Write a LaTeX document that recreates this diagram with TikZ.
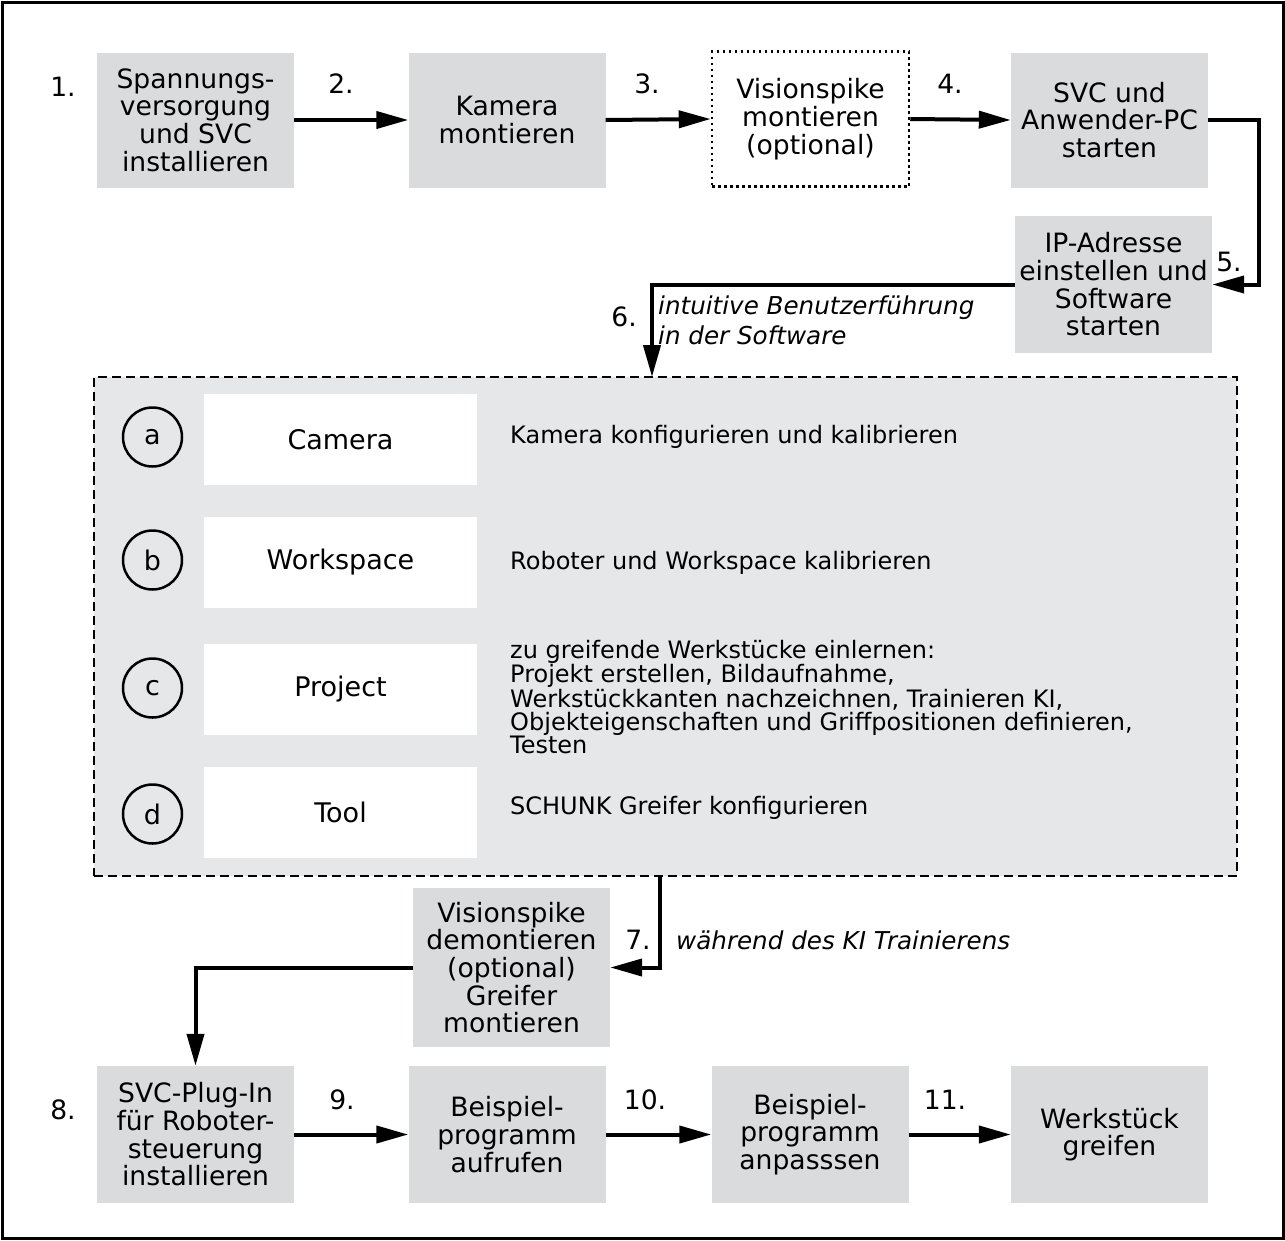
\documentclass[tikz,border=0pt]{standalone}
\usepackage{fontspec}
\setmainfont{DejaVu Sans}
\usetikzlibrary{arrows.meta}
\definecolor{stepgray}{RGB}{218,219,220}
\definecolor{softgray}{RGB}{230,231,232}

\begin{document}
\begin{tikzpicture}[x=1pt, y=-1pt, inner sep=0pt,
  font=\fontsize{26.6}{27.7}\selectfont,
  >={Triangle[length=32pt,width=17pt]},
  flow/.style={->, line width=4pt},
  stepbox/.style={fill=stepgray, minimum width=197pt, minimum height=135pt, align=center},
  optbox/.style={stepbox, fill=white, draw, line width=2.5pt, dash pattern=on 2.5pt off 3.5pt},
  swbox/.style={fill=softgray, draw, line width=2.5pt, dash pattern=on 9pt off 5pt, minimum width=1143pt, minimum height=499pt},
  tabbox/.style={fill=white, minimum width=273pt, minimum height=91pt, font=\fontsize{27}{27}\selectfont},
  letter/.style={circle, draw, line width=2.5pt, minimum size=59pt, font=\fontsize{27}{27}\selectfont},
  desc/.style={anchor=west, align=left, font=\fontsize{24}{23}\selectfont},
  note/.style={anchor=west, align=left, font=\fontsize{24.6}{30}\selectfont\itshape}]

\useasboundingbox (0,0) rectangle (1285,1240);
\draw[line width=3pt] (2,2) rectangle (1283,1238);

\node[stepbox] (s1) at (195.5,120) {Spannungs-\\versorgung\\und SVC\\installieren};
\node[stepbox] (s2) at (507,120) {Kamera\\montieren};
\node[optbox] (s3) at (810.5,119) {Visionspike\\montieren\\(optional)};
\node[stepbox] (s4) at (1109.5,120) {SVC und\\Anwender-PC\\starten};
\node[stepbox, minimum height=137pt] (s5) at (1113.5,284.5) {IP-Adresse\\einstellen und\\Software\\starten};

\node (l1) at (63,87) {1.};
\node (l2) at (341,84) {2.};
\node (l3) at (647,84) {3.};
\node (l4) at (950,84) {4.};
\node (l5) at (1229,262) {5.};

\draw[flow] (s1.east) -- (s2.west);
\draw[flow] (s2.east) -- (s3.west);
\draw[flow] (s3.east) -- (s4.west);
\draw[flow] (s4.east) -- ++(51,0) |- (s5.east);

\node[swbox] (sw) at (665.5,626.5) {};
\coordinate (in6) at (652,377);
\draw[flow] (s5.west) -| (in6);
\node[anchor=east] (l6) at (637,317) {6.};
\node[note] (n6) at (658,320) {intuitive Benutzerführung\\in der Software};

\node[letter] (ca) at (152.5,437) {a};
\node[letter] (cb) at (152.5,560) {b};
\node[letter] (cc) at (152.5,688) {c};
\node[letter] (cd) at (152.5,814) {d};

\node[tabbox] (ta) at (340.5,439.5) {Camera};
\node[tabbox] (tb) at (340.5,562.5) {Workspace};
\node[tabbox] (tc) at (340.5,689) {Project};
\node[tabbox] (td) at (340.5,812) {Tool};

\node[desc] (da) at (510,437) {Kamera konfigurieren und kalibrieren};
\node[desc] (db) at (510,563) {Roboter und Workspace kalibrieren};
\node[desc] (dc) at (510,697) {zu greifende Werkstücke einlernen:\\Projekt erstellen, Bildaufnahme,\\Werkstückkanten nachzeichnen, Trainieren KI,\\Objekteigenschaften und Griffpositionen definieren,\\Testen};
\node[desc] (dd) at (510,808) {SCHUNK Greifer konfigurieren};

\node[stepbox, minimum height=159pt] (s7) at (511.5,967.5) {Visionspike\\demontieren\\(optional)\\Greifer\\montieren};
\coordinate (out7) at (660,876);
\draw[flow] (out7) |- (s7.east);
\node (l7) at (638,940) {7.};
\node[note] (n7) at (676,940) {während des KI Trainierens};

\node[stepbox, minimum height=137pt] (s8) at (195.5,1134.5) {SVC-Plug-In\\für Roboter-\\steuerung\\installieren};
\node[stepbox, minimum height=137pt] (s9) at (507,1134.5) {Beispiel-\\programm\\aufrufen};
\node[stepbox, minimum height=137pt] (s10) at (810,1134.5) {Beispiel-\\programm\\anpasssen};
\node[stepbox, minimum height=137pt] (s11) at (1109.5,1134.5) {Werkstück\\greifen};

\draw[flow] (s7.west) -| (s8.north);
\node (l8) at (63,1110) {8.};
\node (l9) at (342,1100) {9.};
\node (l10) at (645,1100) {10.};
\node (l11) at (945,1100) {11.};

\draw[flow] (s8.east) -- (s9.west);
\draw[flow] (s9.east) -- (s10.west);
\draw[flow] (s10.east) -- (s11.west);

\end{tikzpicture}
\end{document}
